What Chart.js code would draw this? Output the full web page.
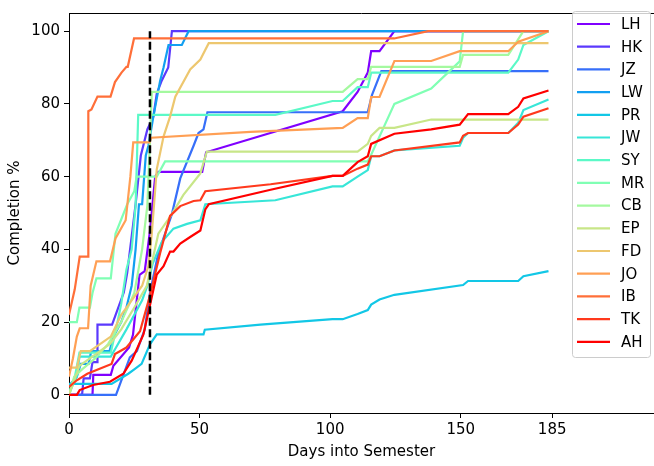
<!DOCTYPE html>
<html>
<head>
<meta charset="utf-8">
<script src="https://cdn.jsdelivr.net/npm/chart.js@4/dist/chart.umd.min.js"></script>
<style>
html,body{margin:0;padding:0;background:#fff;}
#wrap{width:654px;height:466px;}
</style>
</head>
<body>
<div id="wrap"><canvas id="c" width="654" height="466"></canvas></div>
<script>
// ---- data (days into semester, completion %) ----
const seriesNames = ['LH','HK','JZ','LW','PR','JW','SY','MR','CB','EP','FD','JO','IB','TK','AH'];
const xTicks = [0, 50, 100, 150, 185];
const yTicks = [0, 20, 40, 60, 80, 100];
const cutoffDay = [31, 31];
const cutoffPct = [0, 100];

const LH_days = [0,9,9.3,16,17,23,24.5,27,29,31,33,34.2,51,52.5,104.8,110.5,114.4,115.7,118.9,124.6,183.6];
const LH_pct  = [0,0,5.5,5.5,8,13,16.5,33,34,45,60,61.3,61.3,66.7,78,83.3,88.6,94.5,94.5,100,100];

const HK_days = [0,5,5.6,8,9,10.8,10.9,16.5,21,22.3,25.5,27.5,30,32.3,33.6,35.5,38,39.4,183.6];
const HK_pct  = [0,0,4.5,4.5,9,9,19.3,19.3,28.2,33.6,52.4,65.8,73,76.5,82.8,86.4,90,100,100];

const JZ_days = [0,18,23.3,26,29,31,34.2,39.4,42.6,47.7,49.6,51.5,53,114.4,116,119.6,183.6];
const JZ_pct  = [0,0,10.3,12,18,28,39,49.7,59.5,68.5,72,73,77.7,77.7,82.4,89,89];

const LW_days = [0,3,4.5,7.5,8.5,15.5,17,20,22,24,25.5,26.8,28,29.4,30.4,32.3,34.9,36.2,38.1,43.2,45.8,183.6];
const LW_pct  = [2.5,5,8.5,8.5,12,12,16,20,24,30,40,52.4,52.4,65.8,68.5,76.5,86.4,90,96.2,96.2,100,100];

const PR_days = [0,16.3,22.7,25,27.8,31,33.6,51.5,52,73.3,100.9,104.8,110.5,114.4,115.7,118.9,124.6,150.9,152.8,172,174,183.6];
const PR_pct  = [3,3,5.8,7,8.5,13.9,16.6,16.6,17.9,19.3,20.8,20.8,22.2,23.3,24.8,26.2,27.5,30.2,31.3,31.3,32.6,34];

const JW_days = [0,1,3,4,16,18,22,25,28,30,32,35.5,40,45.2,50.3,52.2,79,100.9,104.8,110.5,114.4,115.7,118.9,124.6,149.6,150.9,152.8,168.2,172,174,183.6];
const JW_pct  = [0,2,5,10.5,10.5,13,18,22,26,30,36,42,45.7,47,48,52.4,53.5,57.3,57.3,60,61.8,65.6,65.6,67.2,68.5,70.7,72,72,74.8,78.3,81.2];

const SY_days = [0,1,2,4,16,18,20,22,24,25.5,26.5,79,100.9,104.8,110.5,114.4,115.7,168.2,172,174,183.6];
const SY_pct  = [0,3,4,11.6,11.6,18,25,34.5,40,52,77,77,80.8,80.8,84.6,84.6,88.6,88.6,92.2,96.2,100];

const MR_days = [0,3,4,8,9,10.5,16,17.8,22.3,25,25.9,33.6,36.8,114.4,115.7,124.6,138.7,149.6,150.9,183.6];
const MR_pct  = [20,20,24,24,28,32,32,44.3,52.4,56,60,60,64.2,64.2,66,80,84.2,91.7,100,100];

const CB_days = [0,2,5,10,15,20,25,28,30,31,31.7,104.8,110.5,114.4,115.7,149.6,150.9,168.2,174,183.6];
const CB_pct  = [0,5,7,10,14,20,28,40,52,70,83.3,83.3,86.8,86.8,90.2,90.2,93.5,93.5,100,100];

const EP_days = [0,2,4,8,15.7,20,25,29.8,34.2,39.4,43.8,50.3,52.8,110.5,114.4,115.7,118.9,124.6,138.7,183.6];
const EP_pct  = [0,4,8,10,14,18,24,30,44.3,49.7,55,60.9,66.9,66.9,69,71.2,73.4,73.4,75.7,75.7];

const FD_days = [0,3,4.5,8,12,16,20,24,28,30.4,31.7,33.6,36.2,38.7,40.7,46.4,50.3,53.5,183.6];
const FD_pct  = [7.5,7.5,12,12,14,16,22,26,30,35.4,44.3,62,71,76.5,82,89.5,92.2,96.7,96.7];

const JO_days = [0,1.5,3,4.1,7.3,8.3,10.5,15.7,17.8,21.7,23.5,24.6,30.8,31.5,69.5,104.8,110.5,114.4,115.7,118.9,124.6,138.7,149.6,168.2,172,183.6];
const JO_pct  = [5,10,16,18.3,18.3,30,36.7,36.7,43,48,60,69.4,69.4,70.7,72.3,73.4,76.1,76.1,81.9,81.9,91.8,91.8,94.5,94.5,97.1,100];

const IB_days = [0,2.2,4.1,7.3,7.4,8.6,10.9,15.9,17.6,20.1,22,22.5,24.9,124.5,137.5,183.6];
const IB_pct  = [22,29,38,38,78,78.5,82,82,86,88.6,90.2,90.2,98,98,100,100];

const TK_days = [0,3,7,16.3,17.6,22,27.2,31,34.9,38.7,42.6,47.7,50.3,52.2,77.2,100.9,104.8,110.5,114.4,115.7,118.9,124.6,149.6,150.9,152.8,168.2,172,174,183.6];
const TK_pct  = [2.2,4,5.8,8.5,11.2,13,17.5,27.3,39,49.2,51.9,53.3,53.5,56,57.9,60.2,60.2,62.2,63.3,65.6,65.6,67.2,69.4,71.2,72,72,74.3,76.5,78.8];

const AH_days = [0,3,4.1,9.2,15.7,20.8,24,28.5,31,33.6,36.2,38.7,40,42.6,46.4,50.3,52.2,53.5,77.2,100.9,104.8,110.5,114.4,115.7,124.6,138.7,149.6,152.8,168.2,172,174,183.6];
const AH_pct  = [0,0,1.3,2.7,3.6,5.8,9.4,16.6,24.6,33.1,35.4,39.4,39.4,41.6,43.4,45.2,51,52.4,56.4,60.2,60.2,64,65.6,69,71.8,73,74.3,77.2,77.2,79.2,81.5,83.7];

const seriesDays = [LH_days,HK_days,JZ_days,LW_days,PR_days,JW_days,SY_days,MR_days,CB_days,EP_days,FD_days,JO_days,IB_days,TK_days,AH_days];
const seriesPct  = [LH_pct,HK_pct,JZ_pct,LW_pct,PR_pct,JW_pct,SY_pct,MR_pct,CB_pct,EP_pct,FD_pct,JO_pct,IB_pct,TK_pct,AH_pct];

// matplotlib 'rainbow' colormap sampled
function rainbow(t){
  const r = Math.min(1, Math.abs(2*t - 0.5));
  const g = Math.sin(Math.PI*t);
  const b = Math.cos(Math.PI*t/2);
  return 'rgb(' + Math.round(r*255) + ',' + Math.round(g*255) + ',' + Math.round(Math.max(0,b)*255) + ')';
}
const N = seriesNames.length;
const colors = seriesNames.map((_, i) => rainbow(i/(N-1)));

const FONT = {family: '"DejaVu Sans", sans-serif', size: 15};

const datasets = seriesNames.map((name, i) => ({
  label: name,
  data: seriesDays[i].map((d, k) => ({x: d, y: seriesPct[i][k]})),
  borderColor: colors[i],
  backgroundColor: colors[i],
  borderWidth: 2.2,
  pointRadius: 0,
  tension: 0,
  fill: false,
  order: N - i + 1
}));
datasets.push({
  label: '_cutoff',
  data: cutoffDay.map((d, k) => ({x: d, y: cutoffPct[k]})),
  borderColor: '#000',
  borderWidth: 2.5,
  borderDash: [8, 3.5],
  pointRadius: 0,
  fill: false,
  order: 0
});

const extras = {
  id: 'extras',
  afterDraw(chart){
    const ctx = chart.ctx, a = chart.chartArea;
    ctx.save();
    // top spine
    ctx.strokeStyle = '#000'; ctx.lineWidth = 1;
    ctx.beginPath(); ctx.moveTo(a.left, a.top + 0.5); ctx.lineTo(a.right, a.top + 0.5); ctx.stroke();
    // legend
    const bx = 572.5, by = 11.5, bw = 78, bh = 346, r = 3;
    ctx.beginPath();
    ctx.moveTo(bx + r, by);
    ctx.lineTo(bx + bw - r, by); ctx.quadraticCurveTo(bx + bw, by, bx + bw, by + r);
    ctx.lineTo(bx + bw, by + bh - r); ctx.quadraticCurveTo(bx + bw, by + bh, bx + bw - r, by + bh);
    ctx.lineTo(bx + r, by + bh); ctx.quadraticCurveTo(bx, by + bh, bx, by + bh - r);
    ctx.lineTo(bx, by + r); ctx.quadraticCurveTo(bx, by, bx + r, by);
    ctx.closePath();
    ctx.fillStyle = 'rgba(255,255,255,0.8)'; ctx.fill();
    ctx.strokeStyle = '#cccccc'; ctx.lineWidth = 1; ctx.stroke();
    ctx.font = '15px "DejaVu Sans", sans-serif';
    ctx.textBaseline = 'middle'; ctx.textAlign = 'left';
    for (let i = 0; i < N; i++) {
      const y = 24 + i * 22.7;
      ctx.strokeStyle = colors[i]; ctx.lineWidth = 2.2;
      ctx.beginPath(); ctx.moveTo(577, y); ctx.lineTo(610, y); ctx.stroke();
      ctx.fillStyle = '#000';
      ctx.fillText(seriesNames[i], 621, y + 1);
    }
    ctx.restore();
  }
};

new Chart(document.getElementById('c'), {
  type: 'line',
  data: {datasets},
  options: {
    responsive: false,
    animation: false,
    layout: {padding: {top: 4, right: 0, left: 0, bottom: 0}},
    plugins: {legend: {display: false}, tooltip: {enabled: false}},
    scales: {
      x: {
        type: 'linear', min: 0, max: 224,
        afterBuildTicks: s => { s.ticks = xTicks.map(v => ({value: v})); },
        afterFit: s => { s.height = 53; },
        ticks: {font: FONT, color: '#000', padding: 3, maxRotation: 0, autoSkip: false},
        grid: {display: true, drawOnChartArea: false, drawTicks: true, tickLength: 5, color: '#000'},
        border: {display: true, color: '#000', width: 1},
        title: {display: true, text: 'Days into Semester', font: FONT, color: '#000', padding: {top: 0, bottom: 5}}
      },
      y: {
        type: 'linear', min: -5, max: 105,
        afterBuildTicks: s => { s.ticks = yTicks.map(v => ({value: v})); },
        afterFit: s => { s.width = 69; },
        ticks: {font: FONT, color: '#000', padding: 4},
        grid: {display: true, drawOnChartArea: false, drawTicks: true, tickLength: 5, color: '#000'},
        border: {display: true, color: '#000', width: 1},
        title: {display: true, text: 'Completion %', font: FONT, color: '#000', padding: {top: 6, bottom: 0}}
      }
    }
  },
  plugins: [extras]
});
</script>
</body>
</html>
